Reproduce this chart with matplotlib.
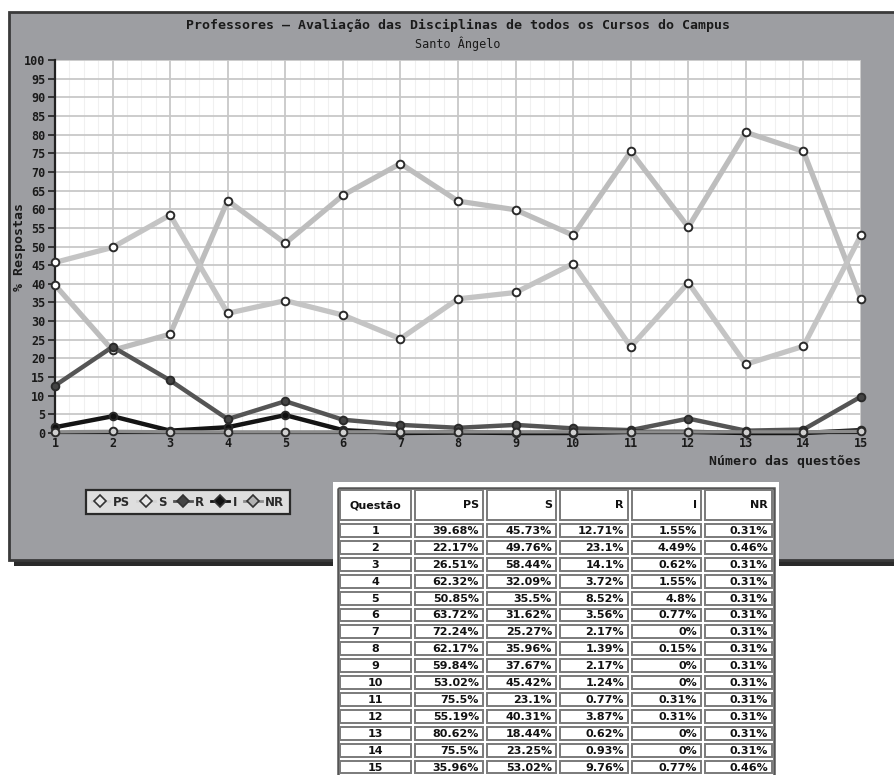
import matplotlib
matplotlib.use("Agg")
import matplotlib.pyplot as plt
from matplotlib.patches import Rectangle
from matplotlib.lines import Line2D

# Survey results per question (% of answers)
questions = list(range(1, 16))
ps = [39.68, 22.17, 26.51, 62.32, 50.85, 63.72, 72.24, 62.17, 59.84, 53.02, 75.5, 55.19, 80.62, 75.5, 35.96]
s = [45.73, 49.76, 58.44, 32.09, 35.5, 31.62, 25.27, 35.96, 37.67, 45.42, 23.1, 40.31, 18.44, 23.25, 53.02]
r = [12.71, 23.1, 14.1, 3.72, 8.52, 3.56, 2.17, 1.39, 2.17, 1.24, 0.77, 3.87, 0.62, 0.93, 9.76]
i_vals = [1.55, 4.49, 0.62, 1.55, 4.8, 0.77, 0, 0.15, 0, 0, 0.31, 0.31, 0, 0, 0.77]
nr = [0.31, 0.46, 0.31, 0.31, 0.31, 0.31, 0.31, 0.31, 0.31, 0.31, 0.31, 0.31, 0.31, 0.31, 0.46]

series_names = ["PS", "S", "R", "I", "NR"]
series_values = [ps, s, r, i_vals, nr]
table_header = ["Questão", "PS", "S", "R", "I", "NR"]

W, H = 895, 775
fig = plt.figure(figsize=(W / 100, H / 100), dpi=100)
fig.patch.set_facecolor("white")

MONO = "DejaVu Sans Mono"


def fx(px):
    return px / W


def fy(py):
    return 1 - py / H


# Background panel (pixel coordinates, y downward)
bg = fig.add_axes([0, 0, 1, 1], zorder=0)
bg.set_xlim(0, W)
bg.set_ylim(H, 0)
bg.axis("off")
bg.add_patch(Rectangle((14, 16), W, 550, facecolor="#2a2a2a", edgecolor="none"))
bg.add_patch(Rectangle((9, 12), W, 548, facecolor="#9d9ea2", edgecolor="#3a3a3a", linewidth=2))

# Plot area
ax_left, ax_right, ax_top, ax_bottom = 55, 861, 60, 433
ax = fig.add_axes([fx(ax_left), fy(ax_bottom), fx(ax_right - ax_left), (ax_bottom - ax_top) / H], zorder=1)
ax.set_facecolor("white")
ax.set_xlim(1, 15)
ax.set_ylim(0, 100)

ax.set_xticks(questions)
ax.set_xticks([q + f for q in questions[:-1] for f in (0.25, 0.5, 0.75)], minor=True)
ax.set_yticks(range(0, 101, 5))
ax.grid(True, which="major", color="#c8c8c8", linewidth=1.3)
ax.grid(True, which="minor", axis="x", color="#f0f0f0", linewidth=0.8)
ax.set_axisbelow(True)
ax.tick_params(axis="x", which="minor", length=0)
ax.tick_params(axis="both", which="major", direction="out", length=5, width=1.2, color="#222222",
               labelsize=8.5, labelcolor="#1a1a1a", pad=2)
ax.tick_params(axis="x", which="major", length=0, pad=3)
for lab in ax.get_xticklabels() + ax.get_yticklabels():
    lab.set_fontfamily(MONO)
    lab.set_fontweight("bold")
for side in ("top", "right"):
    ax.spines[side].set_visible(False)
for side in ("left", "bottom"):
    ax.spines[side].set_color("#222222")
    ax.spines[side].set_linewidth(1.6)

line_colors = ["#bdbdbd", "#c4c4c4", "#555555", "#141414", "#8c8c8c"]
marker_faces = ["white", "white", "#444444", "#111111", "#d0d0d0"]
line_widths = [3.8, 3.8, 3.2, 3.2, 2.4]
zorders = [3, 3, 4, 5, 6]
for vals, col, mf, lw, zo in zip(series_values, line_colors, marker_faces, line_widths, zorders):
    ax.plot(questions, vals, color=col, linewidth=lw, marker="o", markersize=5.5,
            markerfacecolor=mf, markeredgecolor="#2a2a2a", markeredgewidth=1.4,
            zorder=zo, clip_on=False)

# Titles and axis labels
fig.text(fx(458), fy(25), "Professores – Avaliação das Disciplinas de todos os Cursos do Campus",
         ha="center", va="center", fontsize=9.5, fontweight="bold", family=MONO, color="#1a1a1a")
fig.text(fx(458), fy(44), "Santo Ângelo", ha="center", va="center", fontsize=8.5,
         family=MONO, color="#1a1a1a")
fig.text(fx(861), fy(462), "Número das questões", ha="right", va="center", fontsize=9.5,
         fontweight="bold", family=MONO, color="#1a1a1a")
fig.text(fx(20), fy(247), "% Respostas", ha="center", va="center", rotation=90, fontsize=9.5,
         fontweight="bold", family=MONO, color="#1a1a1a")

# Legend with diamond markers
legend_faces = ["#e8e8e8", "#e8e8e8", "#444444", "#111111", "#b0b0b0"]
legend_lines = ["#d4d4d4", "#d4d4d4", "#555555", "#141414", "#8c8c8c"]
handles = [Line2D([0], [0], color=lc, linewidth=2, marker="D", markersize=6.5,
                  markerfacecolor=mf, markeredgecolor="#333333", markeredgewidth=1.2)
           for lc, mf in zip(legend_lines, legend_faces)]
leg = fig.legend(handles, series_names, loc="center", bbox_to_anchor=(fx(188), fy(502)),
                 ncol=5, handlelength=1.5, handletextpad=0.3, columnspacing=0.6,
                 frameon=True, fancybox=False, borderpad=0.5,
                 prop={"size": 8.5, "weight": "bold", "family": "DejaVu Sans"})
leg.get_frame().set_facecolor("#dedede")
leg.get_frame().set_edgecolor("#2a2a2a")
leg.get_frame().set_linewidth(1.6)
leg.get_frame().set_alpha(1)
for t in leg.get_texts():
    t.set_color("#2a2a2a")

# Data table drawn over the panel
ov = fig.add_axes([0, 0, 1, 1], zorder=5)
ov.set_xlim(0, W)
ov.set_ylim(H, 0)
ov.axis("off")
ov.add_patch(Rectangle((333, 482), 446, 300, facecolor="white", edgecolor="none"))
col_x = [338, 413, 485, 558, 630, 703, 774]
header_top, header_bot = 488, 522
row_h = 16.9
ov.add_patch(Rectangle((col_x[0], header_top), col_x[-1] - col_x[0], 300,
                       facecolor="none", edgecolor="#555555", linewidth=1.8))


def cell(x0, x1, y0, y1):
    ov.add_patch(Rectangle((x0 + 2, y0 + 2), x1 - x0 - 4, y1 - y0 - 4,
                           facecolor="white", edgecolor="#7a7a7a", linewidth=1.4))


for c in range(6):
    x0, x1 = col_x[c], col_x[c + 1]
    cell(x0, x1, header_top, header_bot)
    ymid = (header_top + header_bot) / 2
    if c == 0:
        ov.text((x0 + x1) / 2, ymid, table_header[c], ha="center", va="center",
                fontsize=8, fontweight="bold", color="#111111")
    else:
        ov.text(x1 - 6, ymid, table_header[c], ha="right", va="center",
                fontsize=8, fontweight="bold", color="#111111")


def fmt(v):
    return ("%.2f" % v).rstrip("0").rstrip(".") + "%"


for k, q in enumerate(questions):
    y0 = header_bot + k * row_h
    y1 = y0 + row_h
    ymid = (y0 + y1) / 2 + 0.5
    cell(col_x[0], col_x[1], y0, y1)
    ov.text((col_x[0] + col_x[1]) / 2, ymid, str(q), ha="center", va="center",
            fontsize=8, fontweight="bold", color="#111111")
    for c, vals in enumerate(series_values):
        x0, x1 = col_x[c + 1], col_x[c + 2]
        cell(x0, x1, y0, y1)
        ov.text(x1 - 6, ymid, fmt(vals[k]), ha="right", va="center",
                fontsize=8, fontweight="bold", color="#111111")

fig.savefig("out.png", dpi=100)
